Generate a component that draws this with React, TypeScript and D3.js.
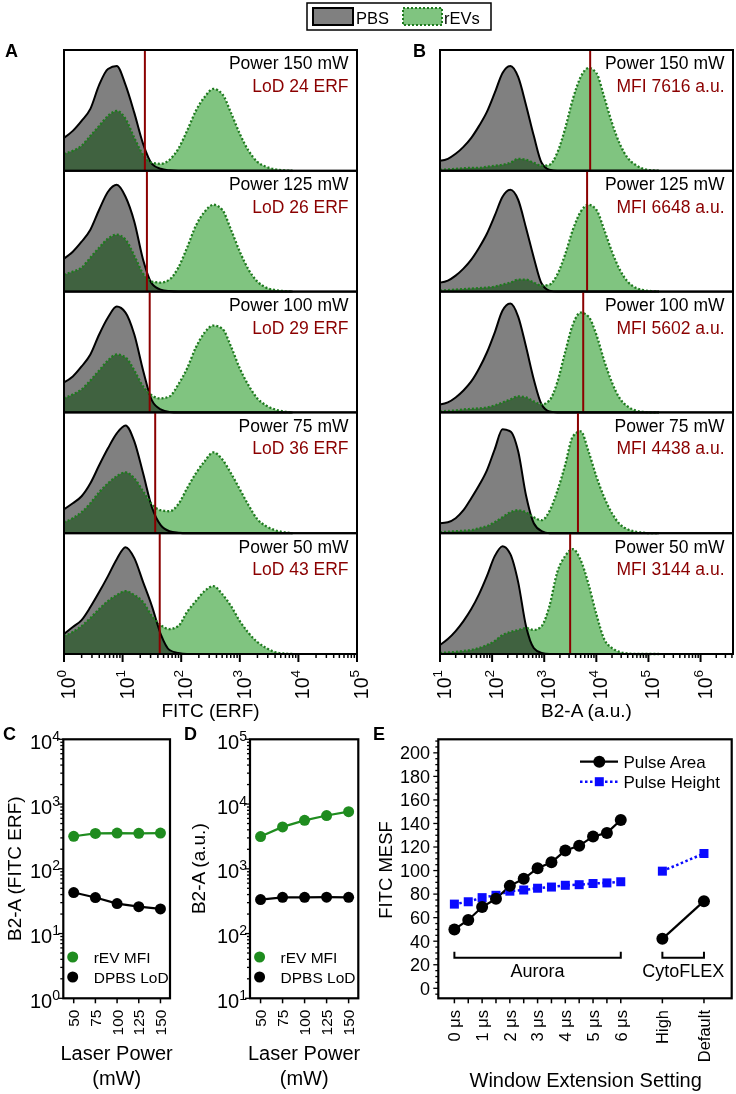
import React from 'react';
import * as d3 from 'd3';

const FONT = "'Liberation Sans', Arial, Helvetica, sans-serif";
const RED = '#8b0000';
const GRAY = '#808080';
const LIGHT_GREEN = '#80c480';
const DOT_GREEN = '#1e7a1e';
const MARK_GREEN = '#1f8c1f';
const BLUE = '#0a0aff';

// ---------- Panels A / B ----------
const POWER_LABELS = ['150', '125', '100', '75', '50'];
const A_LOD = [24, 26, 29, 36, 43];
const B_MFI = [7616, 6648, 5602, 4438, 3144];

// bin centres (log10 of FITC ERF)
const A_LOG = [0, 0.15, 0.3, 0.45, 0.6, 0.75, 0.9, 1.05, 1.2, 1.35, 1.5, 1.65, 1.8, 1.95, 2.1, 2.25, 2.4, 2.55, 2.7, 2.85, 3.0, 3.15, 3.3, 3.45, 3.6, 3.75, 3.9];
const A_PBS_150 = [33, 40, 50, 62, 86, 102, 105, 86, 58, 27, 7, 2, 0.5, 0, 0, 0, 0, 0, 0, 0, 0, 0, 0, 0, 0, 0, 0];
const A_REV_150 = [17, 20, 25, 35, 45, 55, 60, 52, 33, 16, 8, 7, 11, 22, 40, 60, 74, 82, 77, 58, 37, 20, 9, 4, 1.5, 0.5, 0];
const A_PBS_125 = [33, 40, 50, 62, 82, 100, 107, 95, 70, 32, 8, 2, 0.5, 0, 0, 0, 0, 0, 0, 0, 0, 0, 0, 0, 0, 0, 0];
const A_REV_125 = [17, 20, 24, 34, 44, 53, 57, 52, 36, 18, 10, 9, 12, 24, 44, 66, 80, 87, 82, 62, 40, 22, 10, 4, 1.5, 0.5, 0];
const A_PBS_100 = [30, 36, 46, 58, 78, 95, 106, 100, 78, 42, 12, 3, 0.5, 0, 0, 0, 0, 0, 0, 0, 0, 0, 0, 0, 0, 0, 0];
const A_REV_100 = [14, 18, 23, 32, 42, 52, 58, 55, 42, 26, 17, 14, 16, 28, 44, 65, 80, 87, 84, 66, 44, 27, 14, 7, 3, 1, 0];
const A_PBS_75 = [24, 30, 37, 50, 68, 85, 100, 108, 92, 60, 26, 8, 2, 0.5, 0, 0, 0, 0, 0, 0, 0, 0, 0, 0, 0, 0, 0];
const A_REV_75 = [11, 15, 21, 30, 41, 50, 57, 61, 55, 42, 29, 23, 22, 29, 45, 60, 72, 81, 74, 60, 44, 28, 14, 7, 3, 1, 0];
const A_PBS_50 = [20, 27, 34, 47, 62, 78, 95, 107, 96, 72, 48, 20, 4, 1, 0, 0, 0, 0, 0, 0, 0, 0, 0, 0, 0, 0, 0];
const A_REV_50 = [18, 22, 28, 36, 45, 53, 59, 63, 59, 52, 38, 29, 25, 28, 42, 53, 63, 68, 60, 48, 33, 21, 12, 6, 2, 0.5, 0];

// bin centres (log10 of B2-A a.u.)
const B_LOG = [1.0, 1.15, 1.3, 1.45, 1.6, 1.75, 1.9, 2.05, 2.2, 2.35, 2.5, 2.65, 2.8, 2.95, 3.1, 3.25, 3.4, 3.55, 3.7, 3.85, 4.0, 4.15, 4.3, 4.45, 4.6, 4.75, 4.9, 5.05, 5.2];
const B_PBS_150 = [10, 12, 17, 24, 33, 45, 59, 78, 98, 105, 94, 66, 35, 8, 1, 0, 0, 0, 0, 0, 0, 0, 0, 0, 0, 0, 0, 0, 0];
const B_REV_150 = [1, 1.5, 2, 2.5, 3, 3, 4, 5, 6, 8, 12, 11, 8, 5, 6, 18, 42, 72, 94, 103, 98, 74, 48, 27, 13, 6, 2, 0.5, 0];
const B_PBS_125 = [9, 11, 16, 23, 32, 44, 58, 76, 95, 102, 92, 64, 34, 8, 1, 0, 0, 0, 0, 0, 0, 0, 0, 0, 0, 0, 0, 0, 0];
const B_REV_125 = [1, 1.5, 2, 2.5, 3, 3.5, 4, 5, 7, 9, 12, 12, 9, 6, 7, 17, 37, 62, 80, 87, 82, 62, 40, 22, 10, 4, 1.5, 0.5, 0];
const B_PBS_100 = [8, 10, 15, 22, 31, 44, 60, 80, 102, 109, 96, 66, 33, 8, 1, 0, 0, 0, 0, 0, 0, 0, 0, 0, 0, 0, 0, 0, 0];
const B_REV_100 = [1, 1.5, 2, 3, 3.5, 4, 5, 7, 10, 13, 16, 15, 11, 8, 12, 30, 60, 88, 100, 96, 78, 52, 30, 14, 6, 2, 0.5, 0, 0];
const B_PBS_75 = [10, 11, 15, 23, 35, 48, 63, 84, 104, 102, 82, 38, 10, 2, 0, 0, 0, 0, 0, 0, 0, 0, 0, 0, 0, 0, 0, 0, 0];
const B_REV_75 = [1, 1.5, 2, 2.5, 3, 5, 7, 11, 16, 21, 23, 21, 16, 13, 22, 42, 68, 97, 102, 82, 57, 36, 20, 9, 4, 1.5, 0.5, 0, 0];
const B_PBS_50 = [9, 15, 23, 33, 45, 60, 78, 98, 108, 100, 72, 28, 6, 1, 0, 0, 0, 0, 0, 0, 0, 0, 0, 0, 0, 0, 0, 0, 0];
const B_REV_50 = [1, 1.5, 2, 3, 4, 6, 9, 13, 19, 22, 24, 26, 24, 28, 48, 82, 98, 105, 94, 70, 40, 15, 6, 2, 0.5, 0, 0, 0, 0];

const A_PBS = [A_PBS_150, A_PBS_125, A_PBS_100, A_PBS_75, A_PBS_50];
const A_REV = [A_REV_150, A_REV_125, A_REV_100, A_REV_75, A_REV_50];
const B_PBS = [B_PBS_150, B_PBS_125, B_PBS_100, B_PBS_75, B_PBS_50];
const B_REV = [B_REV_150, B_REV_125, B_REV_100, B_REV_75, B_REV_50];

// ---------- Panels C / D ----------
const LASER_POWER = [50, 75, 100, 125, 150];
const C_REV_MFI = [318, 352, 356, 353, 356];
const C_PBS_LOD = [43, 36, 29, 26, 24];
const D_REV_MFI = [3144, 4438, 5602, 6648, 7616];
const D_PBS_LOD = [335, 362, 362, 364, 362];

// ---------- Panel E ----------
const E_AURORA_X = [0, 0.5, 1, 1.5, 2, 2.5, 3, 3.5, 4, 4.5, 5, 5.5, 6];
const E_AREA_AURORA = [50, 58, 69, 76, 87, 93, 102, 107, 117, 121, 129, 132, 143];
const E_HEIGHT_AURORA = [71.5, 73.5, 77, 79, 82.5, 83.5, 85, 86, 87.5, 88, 89, 89.5, 90.5];
const E_CYTO_X = [7.5, 9];
const E_AREA_CYTO = [42, 74];
const E_HEIGHT_CYTO = [99.5, 114.5];
const E_TICK_POS = [0, 1, 2, 3, 4, 5, 6, 7.5, 9];
const E_TICK_LABELS = ['0 μs', '1 μs', '2 μs', '3 μs', '4 μs', '5 μs', '6 μs', 'High', 'Default'];
const E_Y_TICKS = [0, 20, 40, 60, 80, 100, 120, 140, 160, 180, 200];
const E_BRACKETS = [
  { label: 'Aurora', from: 0, to: 6 },
  { label: 'CytoFLEX', from: 7.5, to: 9 },
];
const E_BRACKET_Y = 26;
const E_BRACKET_END = 31;

type Sc = (v: number) => number;

function Hist(props: {
  xs: Sc; logs: number[]; pbs: number[]; rev: number[];
  top: number; bottom: number; left: number; right: number;
  marker: number; t1: string; t2: string;
}) {
  const { xs, logs, pbs, rev, top, bottom, left, right, marker, t1, t2 } = props;
  const y = d3.scaleLinear().domain([0, 121]).range([bottom, top]);
  const xv = logs.map((l) => xs(Math.pow(10, l)));
  const area = d3.area<number>().x((_, i) => xv[i]).y0(bottom).y1((v) => y(v)).curve(d3.curveMonotoneX);
  const line = d3.line<number>().x((_, i) => xv[i]).y((v) => y(v)).curve(d3.curveMonotoneX);
  const mx = xs(marker);
  return (
    <g>
      <path d={area(pbs) || ''} fill={GRAY} />
      <path d={area(rev) || ''} fill={LIGHT_GREEN} style={{ mixBlendMode: 'multiply' }} />
      <path d={line(pbs) || ''} fill="none" stroke="#000" strokeWidth={2} />
      <path d={line(rev) || ''} fill="none" stroke={DOT_GREEN} strokeWidth={2.3} strokeDasharray="2,2" />
      <line x1={mx} x2={mx} y1={top} y2={bottom} stroke={RED} strokeWidth={2} />
      <text x={right - 8.5} y={top + 19.3} textAnchor="end" fontSize={17.5}>{t1}</text>
      <text x={right - 8.5} y={top + 42} textAnchor="end" fontSize={17.5} fill={RED}>{t2}</text>
      <rect x={left} y={top} width={right - left} height={bottom - top} fill="none" stroke="#000" strokeWidth={2} />
    </g>
  );
}

function LogXAxis({ xs, y, labelTop, title, titleY }: { xs: d3.ScaleLogarithmic<number, number>; y: number; labelTop: number; title: string; titleY: number }) {
  const ticks = xs.ticks();
  const [r0, r1] = xs.range();
  return (
    <g>
      {ticks.map((t, i) => {
        const e = Math.log10(t);
        const major = Math.abs(e - Math.round(e)) < 1e-9;
        const x = xs(t);
        return (
          <g key={i}>
            <line x1={x} x2={x} y1={y} y2={y + (major ? 8 : 4)} stroke="#000" strokeWidth={major ? 2 : 1.5} />
            {major && (
              <text transform={`translate(${x + 11},${labelTop}) rotate(-90)`} textAnchor="end" fontSize={19.5}>
                10<tspan fontSize={13.5} dy={-9}>{Math.round(e)}</tspan>
              </text>
            )}
          </g>
        );
      })}
      <text x={(r0 + r1) / 2} y={titleY} textAnchor="middle" fontSize={19}>{title}</text>
    </g>
  );
}

function PowerPanel(props: {
  xs: d3.ScaleLinear<number, number>; ys: d3.ScaleLogarithmic<number, number>;
  green: number[]; black: number[]; title: string; letter: string; letterX: number;
  labelEnd: number; titleX: number;
}) {
  const { xs, ys, green, black, title, letter, letterX, labelEnd, titleX } = props;
  const [x0, x1] = xs.range();
  const [yb, yt] = ys.range();
  const line = d3.line<number>().x((_, i) => xs(LASER_POWER[i])).y((v) => ys(v));
  const ticks = ys.ticks();
  const cx = (x0 + x1) / 2;
  const legX = xs(LASER_POWER[0]) - 1;
  return (
    <g>
      <text x={letterX} y={740} fontSize={18} fontWeight="bold">{letter}</text>
      {ticks.map((t, i) => {
        const e = Math.log10(t);
        const major = Math.abs(e - Math.round(e)) < 1e-9;
        const y = ys(t);
        return (
          <g key={i}>
            <line x1={x0 - (major ? 5 : 3)} x2={x0} y1={y} y2={y} stroke="#000" strokeWidth={1.3} />
            {major && (
              <text x={labelEnd} y={y + 9.5} textAnchor="end" fontSize={20}>
                10<tspan fontSize={14} dy={-8}>{Math.round(e)}</tspan>
              </text>
            )}
          </g>
        );
      })}
      <path d={line(green) || ''} fill="none" stroke={MARK_GREEN} strokeWidth={2.2} />
      <path d={line(black) || ''} fill="none" stroke="#000" strokeWidth={2.2} />
      {green.map((v, i) => <circle key={'g' + i} cx={xs(LASER_POWER[i])} cy={ys(v)} r={5.5} fill={MARK_GREEN} />)}
      {black.map((v, i) => <circle key={'b' + i} cx={xs(LASER_POWER[i])} cy={ys(v)} r={5.5} fill="#000" />)}
      <rect x={x0} y={yt} width={x1 - x0} height={yb - yt} fill="none" stroke="#000" strokeWidth={2.2} />
      {LASER_POWER.map((p, i) => (
        <g key={'t' + i}>
          <line x1={xs(p)} x2={xs(p)} y1={yb} y2={yb + 5} stroke="#000" strokeWidth={1.5} />
          <text transform={`translate(${xs(p) + 5.5},${1009.5}) rotate(-90)`} textAnchor="end" fontSize={15.5}>{p}</text>
        </g>
      ))}
      <circle cx={legX} cy={957} r={5.5} fill={MARK_GREEN} />
      <text x={legX + 21} y={962.5} fontSize={15.5}>rEV MFI</text>
      <circle cx={legX} cy={977} r={5.5} fill="#000" />
      <text x={legX + 21} y={982.5} fontSize={15.5}>DPBS LoD</text>
      <text transform={`translate(${titleX},${868.7}) rotate(-90)`} textAnchor="middle" fontSize={19}>{title}</text>
      <text x={cx} y={1060} textAnchor="middle" fontSize={20}>Laser Power</text>
      <text x={cx} y={1085} textAnchor="middle" fontSize={20}>(mW)</text>
    </g>
  );
}

export default function App() {
  const xA = d3.scaleLog().domain([1, 1e5]).range([64, 357]);
  const xB = d3.scaleLog().domain([10, 4194304]).range([440, 733]);
  const HT = 50;
  const HB = 654;
  const sub = (HB - HT) / 5;

  const xC = d3.scaleLinear().domain([38, 161]).range([63.3, 170]);
  const yC = d3.scaleLog().domain([1, 1e4]).range([998.3, 739.3]);
  const xD = d3.scaleLinear().domain([38, 161]).range([250, 358.3]);
  const yD = d3.scaleLog().domain([10, 1e5]).range([998.3, 739.3]);

  const xE = d3.scaleLinear().domain([-0.58, 10]).range([438.3, 731.7]);
  const yE = d3.scaleLinear().domain([-8.5, 211.5]).range([998.3, 739.3]);
  const [ex0, ex1] = xE.range();
  const [eyb, eyt] = yE.range();
  const eLine = d3.line<number>().y((v) => yE(v));
  const auroraArea = eLine.x((_, i) => xE(E_AURORA_X[i]))(E_AREA_AURORA) || '';
  const auroraHeight = eLine.x((_, i) => xE(E_AURORA_X[i]))(E_HEIGHT_AURORA) || '';
  const cytoArea = eLine.x((_, i) => xE(E_CYTO_X[i]))(E_AREA_CYTO) || '';
  const cytoHeight = eLine.x((_, i) => xE(E_CYTO_X[i]))(E_HEIGHT_CYTO) || '';
  const eMinor = d3.range(-5, 211, 5).filter((v) => v >= -8.5);
  const sq = 9;

  return (
    <svg width={736} height={1094} style={{ position: 'absolute', left: 0, top: 0, display: 'block' }} fontFamily={FONT}>
      <rect x={0} y={0} width={736} height={1094} fill="#fff" />

      {/* Legend */}
      <rect x={307} y={3} width={184} height={27} fill="#fff" stroke="#000" strokeWidth={1.5} />
      <rect x={313} y={8} width={40} height={17} fill={GRAY} stroke="#000" strokeWidth={2} />
      <text x={356} y={23.5} fontSize={16.5}>PBS</text>
      <rect x={403} y={8} width={39} height={17} fill={LIGHT_GREEN} stroke={DOT_GREEN} strokeWidth={2} strokeDasharray="2,2" />
      <text x={444} y={23.5} fontSize={16.5}>rEVs</text>

      {/* Panel A */}
      <text x={5} y={57} fontSize={18} fontWeight="bold">A</text>
      {POWER_LABELS.map((p, i) => (
        <Hist key={'a' + i} xs={xA} logs={A_LOG} pbs={A_PBS[i]} rev={A_REV[i]}
          top={HT + i * sub} bottom={HT + (i + 1) * sub} left={64} right={357}
          marker={A_LOD[i]} t1={`Power ${p} mW`} t2={`LoD ${A_LOD[i]} ERF`} />
      ))}
      <LogXAxis xs={xA} y={HB} labelTop={670} title="FITC (ERF)" titleY={717} />

      {/* Panel B */}
      <text x={413} y={57} fontSize={18} fontWeight="bold">B</text>
      {POWER_LABELS.map((p, i) => (
        <Hist key={'b' + i} xs={xB} logs={B_LOG} pbs={B_PBS[i]} rev={B_REV[i]}
          top={HT + i * sub} bottom={HT + (i + 1) * sub} left={440} right={733}
          marker={B_MFI[i]} t1={`Power ${p} mW`} t2={`MFI ${B_MFI[i]} a.u.`} />
      ))}
      <LogXAxis xs={xB} y={HB} labelTop={670} title="B2-A (a.u.)" titleY={717} />

      {/* Panels C, D */}
      <PowerPanel xs={xC} ys={yC} green={C_REV_MFI} black={C_PBS_LOD} title="B2-A (FITC ERF)"
        letter="C" letterX={3} labelEnd={60} titleX={21} />
      <PowerPanel xs={xD} ys={yD} green={D_REV_MFI} black={D_PBS_LOD} title="B2-A (a.u.)"
        letter="D" letterX={184} labelEnd={247} titleX={205} />

      {/* Panel E */}
      <text x={373} y={740} fontSize={18} fontWeight="bold">E</text>
      {eMinor.map((v, i) => (
        <line key={'em' + i} x1={ex0 - (v % 20 === 0 ? 5 : 3)} x2={ex0} y1={yE(v)} y2={yE(v)} stroke="#000" strokeWidth={1.3} />
      ))}
      {E_Y_TICKS.map((v, i) => (
        <text key={'ey' + i} x={430} y={yE(v) + 6.3} textAnchor="end" fontSize={18}>{v}</text>
      ))}
      {E_AURORA_X.concat(E_CYTO_X).map((v, i) => (
        <line key={'ex' + i} x1={xE(v)} x2={xE(v)} y1={eyb} y2={eyb + 5} stroke="#000" strokeWidth={1.5} />
      ))}
      {E_TICK_POS.map((v, i) => (
        <text key={'exl' + i} transform={`translate(${xE(v) + 5.8},${1010}) rotate(-90)`} textAnchor="end" fontSize={16.5}>{E_TICK_LABELS[i]}</text>
      ))}
      {E_BRACKETS.map((b, i) => (
        <g key={'br' + i}>
          <path d={`M${xE(b.from)},${yE(E_BRACKET_END)}V${yE(E_BRACKET_Y)}H${xE(b.to)}V${yE(E_BRACKET_END)}`} fill="none" stroke="#000" strokeWidth={2} />
          <text x={(xE(b.from) + xE(b.to)) / 2} y={977} textAnchor="middle" fontSize={18}>{b.label}</text>
        </g>
      ))}
      <path d={auroraHeight} fill="none" stroke={BLUE} strokeWidth={2.5} strokeDasharray="2.5,2.5" />
      <path d={cytoHeight} fill="none" stroke={BLUE} strokeWidth={2.5} strokeDasharray="2.5,2.5" />
      <path d={auroraArea} fill="none" stroke="#000" strokeWidth={2.2} />
      <path d={cytoArea} fill="none" stroke="#000" strokeWidth={2.2} />
      {E_HEIGHT_AURORA.map((v, i) => <rect key={'hs' + i} x={xE(E_AURORA_X[i]) - sq / 2} y={yE(v) - sq / 2} width={sq} height={sq} fill={BLUE} />)}
      {E_HEIGHT_CYTO.map((v, i) => <rect key={'hc' + i} x={xE(E_CYTO_X[i]) - sq / 2} y={yE(v) - sq / 2} width={sq} height={sq} fill={BLUE} />)}
      {E_AREA_AURORA.map((v, i) => <circle key={'as' + i} cx={xE(E_AURORA_X[i])} cy={yE(v)} r={6} fill="#000" />)}
      {E_AREA_CYTO.map((v, i) => <circle key={'ac' + i} cx={xE(E_CYTO_X[i])} cy={yE(v)} r={6} fill="#000" />)}
      <rect x={ex0} y={eyt} width={ex1 - ex0} height={eyb - eyt} fill="none" stroke="#000" strokeWidth={2.2} />
      {/* E legend */}
      <line x1={580} x2={618} y1={761.7} y2={761.7} stroke="#000" strokeWidth={2.2} />
      <circle cx={599.3} cy={761.7} r={6} fill="#000" />
      <text x={623.5} y={767.5} fontSize={17}>Pulse Area</text>
      <line x1={580} x2={618} y1={781.7} y2={781.7} stroke={BLUE} strokeWidth={2.5} strokeDasharray="2.5,2.5" />
      <rect x={599.3 - sq / 2} y={781.7 - sq / 2} width={sq} height={sq} fill={BLUE} />
      <text x={623.5} y={787.5} fontSize={17}>Pulse Height</text>
      <text transform={`translate(392,870) rotate(-90)`} textAnchor="middle" fontSize={18.5}>FITC MESF</text>
      <text x={585.7} y={1087} textAnchor="middle" fontSize={20}>Window Extension Setting</text>
    </svg>
  );
}
